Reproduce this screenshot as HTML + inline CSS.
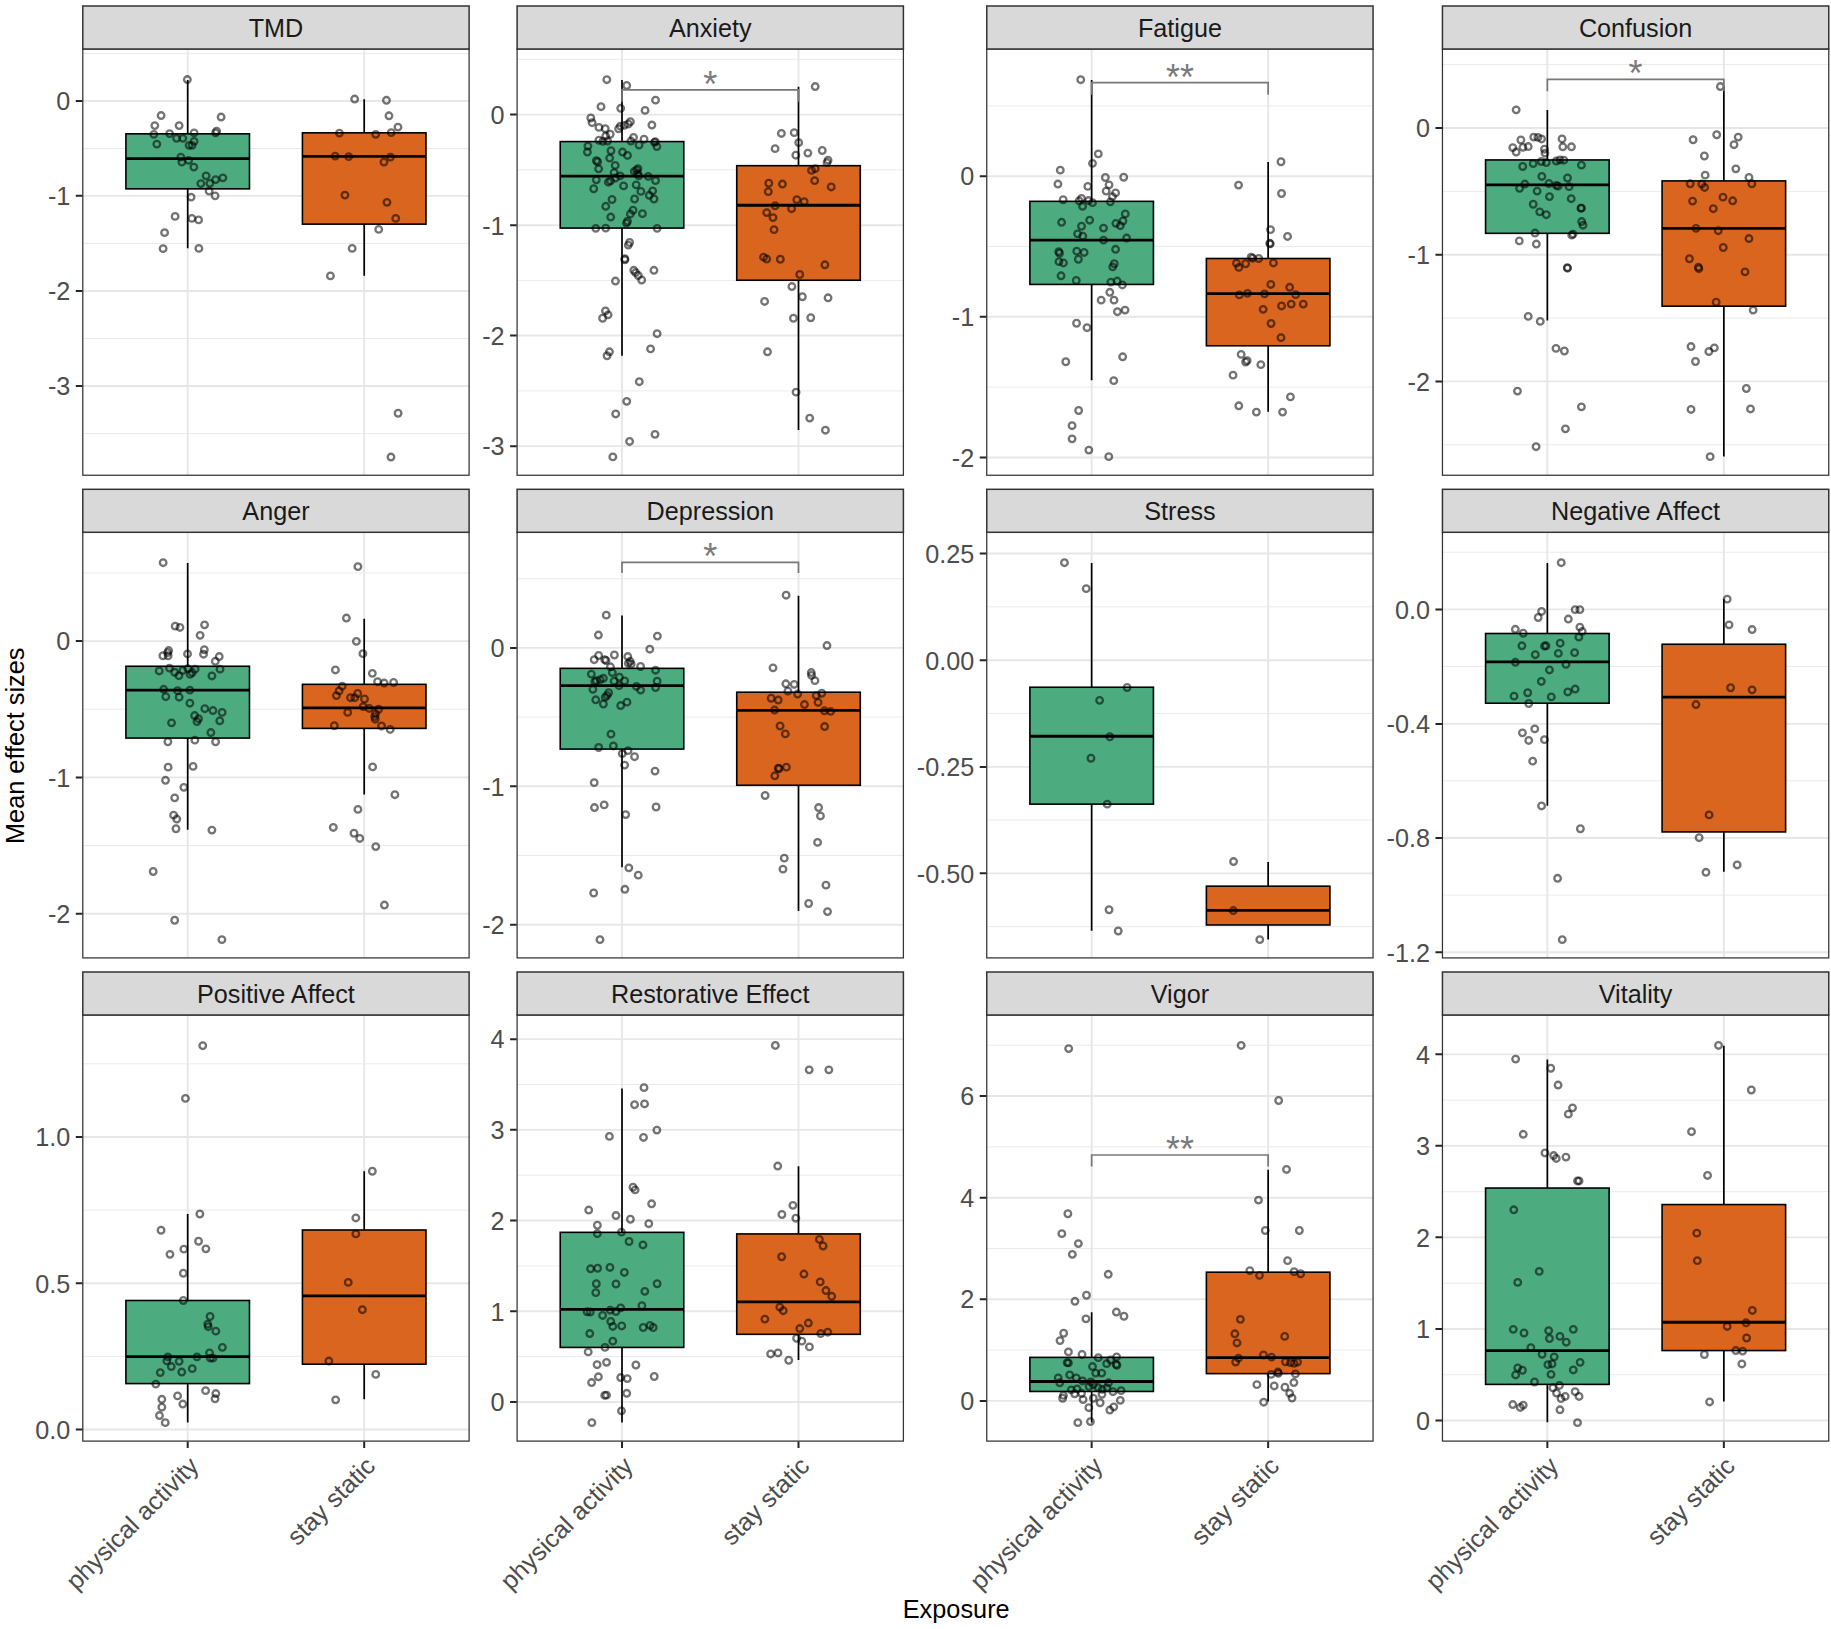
<!DOCTYPE html>
<html lang="en">
<head>
<meta charset="utf-8">
<title>Mean effect sizes by exposure</title>
<style>
html,body{margin:0;padding:0;background:#fff;}
body{width:1831px;height:1629px;overflow:hidden;}
svg{display:block;font-family:"Liberation Sans", Arial, sans-serif;}
</style>
</head>
<body>
<svg width="1831" height="1629" viewBox="0 0 1831 1629">
<rect width="1831" height="1629" fill="#fff"/>
<g>
<rect x="82.8" y="49" width="386.3" height="426.24" fill="#fff"/>
<path d="M82.8 53.57H469.1M82.8 148.55H469.1M82.8 243.52H469.1M82.8 338.5H469.1M82.8 433.47H469.1" stroke="#EBEBEB" stroke-width="1" fill="none"/>
<path d="M82.8 101.06H469.1M82.8 195.87H469.1M82.8 290.93H469.1M82.8 385.99H469.1M187.7 49V475.24M364.2 49V475.24" stroke="#E7E7E7" stroke-width="1.9" fill="none"/>
<path d="M187.7 80.05V133.83M187.7 188.87V248.15" stroke="#000" stroke-width="1.7" fill="none"/>
<rect x="125.92" y="133.83" width="123.55" height="55.03" fill="#4CAC80" stroke="#000" stroke-width="1.6"/>
<path d="M125.92 158.6H249.47" stroke="#000" stroke-width="2.8" fill="none"/>
<path d="M364.2 99.31V132.83M364.2 224.14V275.67" stroke="#000" stroke-width="1.7" fill="none"/>
<rect x="302.43" y="132.83" width="123.55" height="91.31" fill="#DA651F" stroke="#000" stroke-width="1.6"/>
<path d="M302.43 156.35H425.97" stroke="#000" stroke-width="2.8" fill="none"/>
<g fill="none" stroke="#000" stroke-opacity="0.55" stroke-width="2.3">
<circle cx="187.35" cy="79.55" r="3.3"/>
<circle cx="161.09" cy="115.57" r="3.3"/>
<circle cx="221.12" cy="117.07" r="3.3"/>
<circle cx="154.83" cy="125.58" r="3.3"/>
<circle cx="179.1" cy="125.58" r="3.3"/>
<circle cx="153.83" cy="134.33" r="3.3"/>
<circle cx="169.59" cy="133.58" r="3.3"/>
<circle cx="194.11" cy="132.83" r="3.3"/>
<circle cx="216.62" cy="131.08" r="3.3"/>
<circle cx="215.62" cy="132.83" r="3.3"/>
<circle cx="176.6" cy="138.33" r="3.3"/>
<circle cx="182.85" cy="138.33" r="3.3"/>
<circle cx="194.11" cy="141.34" r="3.3"/>
<circle cx="156.84" cy="144.09" r="3.3"/>
<circle cx="189.1" cy="145.34" r="3.3"/>
<circle cx="192.1" cy="145.34" r="3.3"/>
<circle cx="180.85" cy="157.1" r="3.3"/>
<circle cx="181.85" cy="162.1" r="3.3"/>
<circle cx="188.6" cy="160.35" r="3.3"/>
<circle cx="193.86" cy="167.1" r="3.3"/>
<circle cx="206.11" cy="175.86" r="3.3"/>
<circle cx="222.87" cy="177.86" r="3.3"/>
<circle cx="215.62" cy="179.61" r="3.3"/>
<circle cx="200.86" cy="183.61" r="3.3"/>
<circle cx="209.86" cy="183.36" r="3.3"/>
<circle cx="209.11" cy="191.12" r="3.3"/>
<circle cx="191.1" cy="197.12" r="3.3"/>
<circle cx="215.12" cy="195.87" r="3.3"/>
<circle cx="175.1" cy="216.38" r="3.3"/>
<circle cx="191.85" cy="218.38" r="3.3"/>
<circle cx="198.61" cy="219.89" r="3.3"/>
<circle cx="164.59" cy="232.64" r="3.3"/>
<circle cx="163.09" cy="248.65" r="3.3"/>
<circle cx="198.86" cy="248.4" r="3.3"/>
<circle cx="354.69" cy="99.06" r="3.3"/>
<circle cx="386.46" cy="100.31" r="3.3"/>
<circle cx="388.96" cy="115.82" r="3.3"/>
<circle cx="397.97" cy="127.08" r="3.3"/>
<circle cx="339.44" cy="133.08" r="3.3"/>
<circle cx="375.71" cy="134.33" r="3.3"/>
<circle cx="391.21" cy="132.58" r="3.3"/>
<circle cx="335.18" cy="156.1" r="3.3"/>
<circle cx="348.69" cy="156.6" r="3.3"/>
<circle cx="390.46" cy="157.1" r="3.3"/>
<circle cx="383.96" cy="162.1" r="3.3"/>
<circle cx="344.94" cy="195.12" r="3.3"/>
<circle cx="386.96" cy="202.37" r="3.3"/>
<circle cx="395.72" cy="218.38" r="3.3"/>
<circle cx="378.71" cy="229.39" r="3.3"/>
<circle cx="352.19" cy="248.4" r="3.3"/>
<circle cx="330.43" cy="275.92" r="3.3"/>
<circle cx="398.09" cy="413.25" r="3.3"/>
<circle cx="390.96" cy="457.03" r="3.3"/>
</g>
<rect x="82.8" y="49" width="386.3" height="426.24" fill="none" stroke="#333333" stroke-width="1.25"/>
<rect x="82.8" y="6" width="386.3" height="43" fill="#D9D9D9" stroke="#333333" stroke-width="1.5"/>
<text x="275.95" y="36.7" font-size="25.2" fill="#1A1A1A" text-anchor="middle">TMD</text>
<text x="70.3" y="110.36" font-size="25.2" fill="#4D4D4D" text-anchor="end">0</text>
<text x="70.3" y="205.17" font-size="25.2" fill="#4D4D4D" text-anchor="end">-1</text>
<text x="70.3" y="300.23" font-size="25.2" fill="#4D4D4D" text-anchor="end">-2</text>
<text x="70.3" y="395.29" font-size="25.2" fill="#4D4D4D" text-anchor="end">-3</text>
<path d="M75.8 101.06H82.4M75.8 195.87H82.4M75.8 290.93H82.4M75.8 385.99H82.4" stroke="#262626" stroke-width="2" fill="none"/>
</g>
<g>
<rect x="517.1" y="49" width="386.3" height="426.24" fill="#fff"/>
<path d="M517.1 59.32H903.4M517.1 169.84H903.4M517.1 280.37H903.4M517.1 390.9H903.4" stroke="#EBEBEB" stroke-width="1" fill="none"/>
<path d="M517.1 114.58H903.4M517.1 225.2H903.4M517.1 335.55H903.4M517.1 446.17H903.4M622 49V475.24M798.5 49V475.24" stroke="#E7E7E7" stroke-width="1.9" fill="none"/>
<path d="M622 79.98V141.58M622 228.08V355.73" stroke="#000" stroke-width="1.7" fill="none"/>
<rect x="560.23" y="141.58" width="123.55" height="86.5" fill="#4CAC80" stroke="#000" stroke-width="1.6"/>
<path d="M560.23 176.18H683.77" stroke="#000" stroke-width="2.8" fill="none"/>
<path d="M798.5 86.79V165.69M798.5 280.24V429.91" stroke="#000" stroke-width="1.7" fill="none"/>
<rect x="736.73" y="165.69" width="123.55" height="114.55" fill="#DA651F" stroke="#000" stroke-width="1.6"/>
<path d="M736.73 205.27H860.27" stroke="#000" stroke-width="2.8" fill="none"/>
<g fill="none" stroke="#000" stroke-opacity="0.55" stroke-width="2.3">
<circle cx="606.79" cy="79.72" r="3.3"/>
<circle cx="626.72" cy="85.48" r="3.3"/>
<circle cx="655.55" cy="100.16" r="3.3"/>
<circle cx="601.03" cy="106.72" r="3.3"/>
<circle cx="620.69" cy="108.29" r="3.3"/>
<circle cx="645.07" cy="110.39" r="3.3"/>
<circle cx="590.8" cy="117.99" r="3.3"/>
<circle cx="592.11" cy="122.71" r="3.3"/>
<circle cx="630.39" cy="121.66" r="3.3"/>
<circle cx="628.29" cy="124.02" r="3.3"/>
<circle cx="624.36" cy="125.33" r="3.3"/>
<circle cx="620.43" cy="126.11" r="3.3"/>
<circle cx="651.88" cy="125.06" r="3.3"/>
<circle cx="598.93" cy="127.42" r="3.3"/>
<circle cx="605.22" cy="128.73" r="3.3"/>
<circle cx="618.59" cy="128.73" r="3.3"/>
<circle cx="610.2" cy="134.24" r="3.3"/>
<circle cx="605.75" cy="136.07" r="3.3"/>
<circle cx="633.53" cy="137.38" r="3.3"/>
<circle cx="644.02" cy="139.22" r="3.3"/>
<circle cx="598.93" cy="140.27" r="3.3"/>
<circle cx="602.86" cy="141.32" r="3.3"/>
<circle cx="607.58" cy="141.05" r="3.3"/>
<circle cx="630.91" cy="141.05" r="3.3"/>
<circle cx="655.29" cy="141.58" r="3.3"/>
<circle cx="654.51" cy="142.36" r="3.3"/>
<circle cx="587.92" cy="146.03" r="3.3"/>
<circle cx="639.04" cy="144.99" r="3.3"/>
<circle cx="656.87" cy="146.56" r="3.3"/>
<circle cx="610.99" cy="150.75" r="3.3"/>
<circle cx="587.4" cy="152.06" r="3.3"/>
<circle cx="622.52" cy="152.06" r="3.3"/>
<circle cx="627.5" cy="155.47" r="3.3"/>
<circle cx="609.68" cy="158.09" r="3.3"/>
<circle cx="596.31" cy="160.71" r="3.3"/>
<circle cx="597.62" cy="161.76" r="3.3"/>
<circle cx="615.18" cy="165.43" r="3.3"/>
<circle cx="598.67" cy="168.84" r="3.3"/>
<circle cx="637.99" cy="168.58" r="3.3"/>
<circle cx="636.68" cy="169.89" r="3.3"/>
<circle cx="634.32" cy="171.46" r="3.3"/>
<circle cx="614.13" cy="172.77" r="3.3"/>
<circle cx="637.73" cy="173.82" r="3.3"/>
<circle cx="620.16" cy="175.92" r="3.3"/>
<circle cx="638.78" cy="175.92" r="3.3"/>
<circle cx="648.21" cy="176.44" r="3.3"/>
<circle cx="615.45" cy="178.01" r="3.3"/>
<circle cx="596.31" cy="179.85" r="3.3"/>
<circle cx="610.46" cy="180.9" r="3.3"/>
<circle cx="608.37" cy="182.21" r="3.3"/>
<circle cx="655.55" cy="180.63" r="3.3"/>
<circle cx="623.57" cy="185.88" r="3.3"/>
<circle cx="636.16" cy="184.83" r="3.3"/>
<circle cx="593.69" cy="188.76" r="3.3"/>
<circle cx="640.87" cy="191.38" r="3.3"/>
<circle cx="652.67" cy="190.86" r="3.3"/>
<circle cx="649.26" cy="195.31" r="3.3"/>
<circle cx="612.04" cy="199.51" r="3.3"/>
<circle cx="634.58" cy="198.98" r="3.3"/>
<circle cx="653.98" cy="198.98" r="3.3"/>
<circle cx="605.75" cy="206.32" r="3.3"/>
<circle cx="633.01" cy="210.25" r="3.3"/>
<circle cx="630.39" cy="213.92" r="3.3"/>
<circle cx="642.45" cy="213.66" r="3.3"/>
<circle cx="610.73" cy="217.07" r="3.3"/>
<circle cx="627.5" cy="221.26" r="3.3"/>
<circle cx="626.46" cy="223.1" r="3.3"/>
<circle cx="595.78" cy="228.34" r="3.3"/>
<circle cx="605.75" cy="228.08" r="3.3"/>
<circle cx="657.13" cy="228.34" r="3.3"/>
<circle cx="629.6" cy="242.5" r="3.3"/>
<circle cx="628.29" cy="245.12" r="3.3"/>
<circle cx="624.88" cy="258.75" r="3.3"/>
<circle cx="624.88" cy="259.8" r="3.3"/>
<circle cx="653.98" cy="270.28" r="3.3"/>
<circle cx="633.8" cy="270.28" r="3.3"/>
<circle cx="635.63" cy="272.64" r="3.3"/>
<circle cx="638.25" cy="275.52" r="3.3"/>
<circle cx="641.66" cy="279.98" r="3.3"/>
<circle cx="615.45" cy="281.03" r="3.3"/>
<circle cx="605.48" cy="310.91" r="3.3"/>
<circle cx="608.11" cy="314.84" r="3.3"/>
<circle cx="602.6" cy="318.25" r="3.3"/>
<circle cx="657.13" cy="333.72" r="3.3"/>
<circle cx="650.57" cy="348.92" r="3.3"/>
<circle cx="609.42" cy="351.8" r="3.3"/>
<circle cx="607.06" cy="355.73" r="3.3"/>
<circle cx="639.3" cy="381.68" r="3.3"/>
<circle cx="626.72" cy="401.34" r="3.3"/>
<circle cx="615.71" cy="413.93" r="3.3"/>
<circle cx="655.03" cy="434.37" r="3.3"/>
<circle cx="629.6" cy="441.45" r="3.3"/>
<circle cx="612.82" cy="456.91" r="3.3"/>
<circle cx="815.21" cy="86.53" r="3.3"/>
<circle cx="781.39" cy="133.45" r="3.3"/>
<circle cx="794.23" cy="132.67" r="3.3"/>
<circle cx="798.69" cy="142.63" r="3.3"/>
<circle cx="775.1" cy="148.66" r="3.3"/>
<circle cx="822.28" cy="150.49" r="3.3"/>
<circle cx="807.87" cy="153.11" r="3.3"/>
<circle cx="795.81" cy="155.21" r="3.3"/>
<circle cx="828.05" cy="160.19" r="3.3"/>
<circle cx="827" cy="162.55" r="3.3"/>
<circle cx="815.21" cy="168.58" r="3.3"/>
<circle cx="811.54" cy="170.41" r="3.3"/>
<circle cx="814.68" cy="180.63" r="3.3"/>
<circle cx="768.8" cy="183.26" r="3.3"/>
<circle cx="782.44" cy="184.04" r="3.3"/>
<circle cx="831.2" cy="186.93" r="3.3"/>
<circle cx="768.28" cy="191.64" r="3.3"/>
<circle cx="796.85" cy="199.77" r="3.3"/>
<circle cx="804.19" cy="201.6" r="3.3"/>
<circle cx="775.1" cy="205.8" r="3.3"/>
<circle cx="791.61" cy="208.68" r="3.3"/>
<circle cx="766.71" cy="212.61" r="3.3"/>
<circle cx="773" cy="217.59" r="3.3"/>
<circle cx="774.05" cy="229.65" r="3.3"/>
<circle cx="763.56" cy="257.17" r="3.3"/>
<circle cx="766.71" cy="259.01" r="3.3"/>
<circle cx="780.34" cy="259.27" r="3.3"/>
<circle cx="824.9" cy="264.78" r="3.3"/>
<circle cx="799.74" cy="274.48" r="3.3"/>
<circle cx="791.87" cy="286.53" r="3.3"/>
<circle cx="802.36" cy="296.76" r="3.3"/>
<circle cx="828.05" cy="297.8" r="3.3"/>
<circle cx="764.61" cy="301.47" r="3.3"/>
<circle cx="793.45" cy="318.25" r="3.3"/>
<circle cx="810.75" cy="317.73" r="3.3"/>
<circle cx="767.49" cy="351.8" r="3.3"/>
<circle cx="796.07" cy="392.17" r="3.3"/>
<circle cx="809.7" cy="418.12" r="3.3"/>
<circle cx="825.43" cy="430.18" r="3.3"/>
</g>
<path d="M622 101.74V89.94H798.5V101.74" stroke="#787878" stroke-width="1.7" fill="none"/>
<text x="710.25" y="96.94" font-size="36" fill="#7a7a7a" text-anchor="middle">*</text>
<rect x="517.1" y="49" width="386.3" height="426.24" fill="none" stroke="#333333" stroke-width="1.25"/>
<rect x="517.1" y="6" width="386.3" height="43" fill="#D9D9D9" stroke="#333333" stroke-width="1.5"/>
<text x="710.25" y="36.7" font-size="25.2" fill="#1A1A1A" text-anchor="middle">Anxiety</text>
<text x="504.6" y="123.88" font-size="25.2" fill="#4D4D4D" text-anchor="end">0</text>
<text x="504.6" y="234.5" font-size="25.2" fill="#4D4D4D" text-anchor="end">-1</text>
<text x="504.6" y="344.85" font-size="25.2" fill="#4D4D4D" text-anchor="end">-2</text>
<text x="504.6" y="455.47" font-size="25.2" fill="#4D4D4D" text-anchor="end">-3</text>
<path d="M510.1 114.58H516.7M510.1 225.2H516.7M510.1 335.55H516.7M510.1 446.17H516.7" stroke="#262626" stroke-width="2" fill="none"/>
</g>
<g>
<rect x="986.75" y="49" width="386.3" height="426.24" fill="#fff"/>
<path d="M986.75 105.86H1373.05M986.75 246.49H1373.05M986.75 387.12H1373.05" stroke="#EBEBEB" stroke-width="1" fill="none"/>
<path d="M986.75 176.18H1373.05M986.75 316.68H1373.05M986.75 457.44H1373.05M1091.65 49V475.24M1268.15 49V475.24" stroke="#E7E7E7" stroke-width="1.9" fill="none"/>
<path d="M1091.65 79.98V201.34M1091.65 284.44V380.37" stroke="#000" stroke-width="1.7" fill="none"/>
<rect x="1029.88" y="201.34" width="123.55" height="83.09" fill="#4CAC80" stroke="#000" stroke-width="1.6"/>
<path d="M1029.88 240.14H1153.43" stroke="#000" stroke-width="2.8" fill="none"/>
<path d="M1268.15 162.02V258.49M1268.15 345.77V411.83" stroke="#000" stroke-width="1.7" fill="none"/>
<rect x="1206.38" y="258.49" width="123.55" height="87.29" fill="#DA651F" stroke="#000" stroke-width="1.6"/>
<path d="M1206.38 293.61H1329.93" stroke="#000" stroke-width="2.8" fill="none"/>
<g fill="none" stroke="#000" stroke-opacity="0.55" stroke-width="2.3">
<circle cx="1080.73" cy="79.72" r="3.3"/>
<circle cx="1098.29" cy="153.9" r="3.3"/>
<circle cx="1092.52" cy="163.33" r="3.3"/>
<circle cx="1060.28" cy="170.15" r="3.3"/>
<circle cx="1105.37" cy="177.49" r="3.3"/>
<circle cx="1123.72" cy="177.23" r="3.3"/>
<circle cx="1057.92" cy="184.04" r="3.3"/>
<circle cx="1087.81" cy="186.4" r="3.3"/>
<circle cx="1109.04" cy="184.83" r="3.3"/>
<circle cx="1106.16" cy="191.12" r="3.3"/>
<circle cx="1115.59" cy="192.95" r="3.3"/>
<circle cx="1112.45" cy="196.62" r="3.3"/>
<circle cx="1063.16" cy="199.77" r="3.3"/>
<circle cx="1081.51" cy="198.46" r="3.3"/>
<circle cx="1079.15" cy="200.82" r="3.3"/>
<circle cx="1088.59" cy="200.56" r="3.3"/>
<circle cx="1092.52" cy="202.65" r="3.3"/>
<circle cx="1110.35" cy="201.87" r="3.3"/>
<circle cx="1082.56" cy="206.32" r="3.3"/>
<circle cx="1125.29" cy="213.92" r="3.3"/>
<circle cx="1061.59" cy="222.31" r="3.3"/>
<circle cx="1089.64" cy="220.22" r="3.3"/>
<circle cx="1122.93" cy="221" r="3.3"/>
<circle cx="1115.86" cy="223.36" r="3.3"/>
<circle cx="1081.51" cy="226.24" r="3.3"/>
<circle cx="1120.31" cy="225.72" r="3.3"/>
<circle cx="1103.53" cy="228.08" r="3.3"/>
<circle cx="1077.58" cy="233.85" r="3.3"/>
<circle cx="1082.82" cy="236.21" r="3.3"/>
<circle cx="1126.6" cy="238.04" r="3.3"/>
<circle cx="1103.53" cy="240.14" r="3.3"/>
<circle cx="1115.59" cy="249.31" r="3.3"/>
<circle cx="1058.71" cy="251.67" r="3.3"/>
<circle cx="1059.49" cy="253.24" r="3.3"/>
<circle cx="1076.79" cy="251.15" r="3.3"/>
<circle cx="1084.13" cy="252.46" r="3.3"/>
<circle cx="1078.37" cy="259.27" r="3.3"/>
<circle cx="1058.97" cy="261.63" r="3.3"/>
<circle cx="1063.42" cy="262.94" r="3.3"/>
<circle cx="1114.28" cy="263.73" r="3.3"/>
<circle cx="1112.71" cy="266.87" r="3.3"/>
<circle cx="1061.07" cy="275.79" r="3.3"/>
<circle cx="1076.27" cy="280.5" r="3.3"/>
<circle cx="1110.87" cy="282.08" r="3.3"/>
<circle cx="1117.17" cy="281.03" r="3.3"/>
<circle cx="1122.41" cy="284.96" r="3.3"/>
<circle cx="1109.83" cy="292.3" r="3.3"/>
<circle cx="1101.17" cy="300.16" r="3.3"/>
<circle cx="1114.02" cy="300.16" r="3.3"/>
<circle cx="1117.43" cy="311.7" r="3.3"/>
<circle cx="1125.03" cy="310.12" r="3.3"/>
<circle cx="1076.53" cy="323.23" r="3.3"/>
<circle cx="1087.02" cy="327.69" r="3.3"/>
<circle cx="1122.67" cy="356.78" r="3.3"/>
<circle cx="1065.78" cy="361.76" r="3.3"/>
<circle cx="1113.76" cy="380.64" r="3.3"/>
<circle cx="1078.63" cy="410.52" r="3.3"/>
<circle cx="1072.08" cy="425.72" r="3.3"/>
<circle cx="1072.08" cy="438.83" r="3.3"/>
<circle cx="1088.85" cy="450.1" r="3.3"/>
<circle cx="1108.78" cy="456.65" r="3.3"/>
<circle cx="1281.01" cy="161.76" r="3.3"/>
<circle cx="1238.54" cy="185.09" r="3.3"/>
<circle cx="1281.54" cy="193.48" r="3.3"/>
<circle cx="1270.52" cy="229.65" r="3.3"/>
<circle cx="1287.56" cy="236.47" r="3.3"/>
<circle cx="1269.74" cy="243.28" r="3.3"/>
<circle cx="1270.26" cy="243.81" r="3.3"/>
<circle cx="1251.13" cy="257.17" r="3.3"/>
<circle cx="1252.7" cy="258.22" r="3.3"/>
<circle cx="1258.73" cy="258.49" r="3.3"/>
<circle cx="1236.45" cy="263.2" r="3.3"/>
<circle cx="1245.62" cy="263.73" r="3.3"/>
<circle cx="1273.41" cy="262.94" r="3.3"/>
<circle cx="1238.8" cy="267.4" r="3.3"/>
<circle cx="1270.79" cy="284.44" r="3.3"/>
<circle cx="1289.66" cy="287.32" r="3.3"/>
<circle cx="1239.33" cy="294.92" r="3.3"/>
<circle cx="1247.46" cy="293.35" r="3.3"/>
<circle cx="1264.5" cy="293.87" r="3.3"/>
<circle cx="1295.69" cy="294.66" r="3.3"/>
<circle cx="1281.54" cy="305.93" r="3.3"/>
<circle cx="1291.23" cy="304.1" r="3.3"/>
<circle cx="1303.29" cy="304.1" r="3.3"/>
<circle cx="1263.18" cy="309.34" r="3.3"/>
<circle cx="1271.05" cy="323.49" r="3.3"/>
<circle cx="1281.01" cy="337.65" r="3.3"/>
<circle cx="1241.16" cy="354.42" r="3.3"/>
<circle cx="1245.62" cy="362.02" r="3.3"/>
<circle cx="1247.19" cy="360.71" r="3.3"/>
<circle cx="1260.83" cy="364.65" r="3.3"/>
<circle cx="1233.04" cy="375.13" r="3.3"/>
<circle cx="1290.45" cy="396.89" r="3.3"/>
<circle cx="1238.8" cy="405.8" r="3.3"/>
<circle cx="1256.37" cy="412.09" r="3.3"/>
<circle cx="1282.58" cy="412.09" r="3.3"/>
</g>
<path d="M1091.65 94.66V82.6H1268.15V94.66" stroke="#787878" stroke-width="1.7" fill="none"/>
<text x="1179.9" y="89.6" font-size="36" fill="#7a7a7a" text-anchor="middle">**</text>
<rect x="986.75" y="49" width="386.3" height="426.24" fill="none" stroke="#333333" stroke-width="1.25"/>
<rect x="986.75" y="6" width="386.3" height="43" fill="#D9D9D9" stroke="#333333" stroke-width="1.5"/>
<text x="1179.9" y="36.7" font-size="25.2" fill="#1A1A1A" text-anchor="middle">Fatigue</text>
<text x="974.25" y="185.48" font-size="25.2" fill="#4D4D4D" text-anchor="end">0</text>
<text x="974.25" y="325.98" font-size="25.2" fill="#4D4D4D" text-anchor="end">-1</text>
<text x="974.25" y="466.74" font-size="25.2" fill="#4D4D4D" text-anchor="end">-2</text>
<path d="M979.75 176.18H986.35M979.75 316.68H986.35M979.75 457.44H986.35" stroke="#262626" stroke-width="2" fill="none"/>
</g>
<g>
<rect x="1442.45" y="49" width="386.3" height="426.24" fill="#fff"/>
<path d="M1442.45 64.58H1828.75M1442.45 191.32H1828.75M1442.45 318.05H1828.75M1442.45 444.79H1828.75" stroke="#EBEBEB" stroke-width="1" fill="none"/>
<path d="M1442.45 127.95H1828.75M1442.45 254.82H1828.75M1442.45 381.42H1828.75M1547.35 49V475.24M1723.85 49V475.24" stroke="#E7E7E7" stroke-width="1.9" fill="none"/>
<path d="M1547.35 110.12V159.93M1547.35 233.32V320.61" stroke="#000" stroke-width="1.7" fill="none"/>
<rect x="1485.58" y="159.93" width="123.55" height="73.39" fill="#4CAC80" stroke="#000" stroke-width="1.6"/>
<path d="M1485.58 184.83H1609.13" stroke="#000" stroke-width="2.8" fill="none"/>
<path d="M1723.85 86.79V180.9M1723.85 306.19V456.39" stroke="#000" stroke-width="1.7" fill="none"/>
<rect x="1662.08" y="180.9" width="123.55" height="125.3" fill="#DA651F" stroke="#000" stroke-width="1.6"/>
<path d="M1662.08 228.34H1785.63" stroke="#000" stroke-width="2.8" fill="none"/>
<g fill="none" stroke="#000" stroke-opacity="0.55" stroke-width="2.3">
<circle cx="1516.16" cy="109.86" r="3.3"/>
<circle cx="1533.72" cy="137.12" r="3.3"/>
<circle cx="1537.91" cy="137.38" r="3.3"/>
<circle cx="1541.58" cy="138.96" r="3.3"/>
<circle cx="1520.87" cy="140.01" r="3.3"/>
<circle cx="1562.03" cy="138.96" r="3.3"/>
<circle cx="1512.75" cy="147.61" r="3.3"/>
<circle cx="1522.97" cy="147.34" r="3.3"/>
<circle cx="1528.21" cy="146.56" r="3.3"/>
<circle cx="1562.82" cy="146.82" r="3.3"/>
<circle cx="1571.47" cy="146.82" r="3.3"/>
<circle cx="1544.47" cy="149.18" r="3.3"/>
<circle cx="1516.16" cy="152.06" r="3.3"/>
<circle cx="1544.99" cy="153.11" r="3.3"/>
<circle cx="1541.32" cy="161.5" r="3.3"/>
<circle cx="1546.3" cy="162.55" r="3.3"/>
<circle cx="1556.26" cy="160.98" r="3.3"/>
<circle cx="1559.94" cy="159.93" r="3.3"/>
<circle cx="1563.87" cy="160.19" r="3.3"/>
<circle cx="1533.2" cy="163.6" r="3.3"/>
<circle cx="1522.71" cy="166.48" r="3.3"/>
<circle cx="1581.43" cy="165.17" r="3.3"/>
<circle cx="1541.85" cy="176.44" r="3.3"/>
<circle cx="1567.54" cy="178.01" r="3.3"/>
<circle cx="1524.81" cy="184.04" r="3.3"/>
<circle cx="1548.92" cy="183.52" r="3.3"/>
<circle cx="1556.26" cy="185.35" r="3.3"/>
<circle cx="1558.1" cy="186.14" r="3.3"/>
<circle cx="1569.11" cy="186.66" r="3.3"/>
<circle cx="1519.56" cy="188.24" r="3.3"/>
<circle cx="1537.13" cy="191.12" r="3.3"/>
<circle cx="1549.45" cy="196.62" r="3.3"/>
<circle cx="1571.21" cy="198.72" r="3.3"/>
<circle cx="1533.2" cy="204.23" r="3.3"/>
<circle cx="1580.91" cy="208.16" r="3.3"/>
<circle cx="1581.43" cy="208.16" r="3.3"/>
<circle cx="1539.75" cy="211.83" r="3.3"/>
<circle cx="1546.3" cy="214.71" r="3.3"/>
<circle cx="1581.69" cy="221.53" r="3.3"/>
<circle cx="1583" cy="225.2" r="3.3"/>
<circle cx="1535.03" cy="233.06" r="3.3"/>
<circle cx="1571.73" cy="235.16" r="3.3"/>
<circle cx="1573.04" cy="234.11" r="3.3"/>
<circle cx="1519.3" cy="240.92" r="3.3"/>
<circle cx="1536.34" cy="244.07" r="3.3"/>
<circle cx="1567.28" cy="267.66" r="3.3"/>
<circle cx="1567.54" cy="268.18" r="3.3"/>
<circle cx="1528.21" cy="316.41" r="3.3"/>
<circle cx="1540.27" cy="321.4" r="3.3"/>
<circle cx="1556" cy="348.39" r="3.3"/>
<circle cx="1564.39" cy="351.02" r="3.3"/>
<circle cx="1517.47" cy="391.12" r="3.3"/>
<circle cx="1581.43" cy="406.85" r="3.3"/>
<circle cx="1565.44" cy="428.87" r="3.3"/>
<circle cx="1536.08" cy="446.69" r="3.3"/>
<circle cx="1720.37" cy="86.53" r="3.3"/>
<circle cx="1716.7" cy="134.76" r="3.3"/>
<circle cx="1738.2" cy="137.12" r="3.3"/>
<circle cx="1693.11" cy="139.74" r="3.3"/>
<circle cx="1734" cy="144.72" r="3.3"/>
<circle cx="1704.38" cy="156" r="3.3"/>
<circle cx="1735.84" cy="168.84" r="3.3"/>
<circle cx="1705.17" cy="175.13" r="3.3"/>
<circle cx="1748.95" cy="177.49" r="3.3"/>
<circle cx="1690.22" cy="183.78" r="3.3"/>
<circle cx="1701.76" cy="184.04" r="3.3"/>
<circle cx="1751.83" cy="183.78" r="3.3"/>
<circle cx="1704.64" cy="187.45" r="3.3"/>
<circle cx="1722.99" cy="197.15" r="3.3"/>
<circle cx="1692.58" cy="201.08" r="3.3"/>
<circle cx="1732.69" cy="200.82" r="3.3"/>
<circle cx="1713.29" cy="208.68" r="3.3"/>
<circle cx="1695.99" cy="228.34" r="3.3"/>
<circle cx="1718.27" cy="230.7" r="3.3"/>
<circle cx="1748.95" cy="238.56" r="3.3"/>
<circle cx="1723.26" cy="247.48" r="3.3"/>
<circle cx="1689.44" cy="258.75" r="3.3"/>
<circle cx="1698.35" cy="267.14" r="3.3"/>
<circle cx="1698.88" cy="268.71" r="3.3"/>
<circle cx="1745.01" cy="271.85" r="3.3"/>
<circle cx="1716.18" cy="302.26" r="3.3"/>
<circle cx="1753.14" cy="310.12" r="3.3"/>
<circle cx="1691.01" cy="346.56" r="3.3"/>
<circle cx="1714.34" cy="347.87" r="3.3"/>
<circle cx="1708.84" cy="351.54" r="3.3"/>
<circle cx="1695.47" cy="361.5" r="3.3"/>
<circle cx="1746.32" cy="388.5" r="3.3"/>
<circle cx="1691.01" cy="409.47" r="3.3"/>
<circle cx="1750.52" cy="408.94" r="3.3"/>
<circle cx="1710.15" cy="456.65" r="3.3"/>
</g>
<path d="M1547.35 91.25V79.45H1723.85V91.25" stroke="#787878" stroke-width="1.7" fill="none"/>
<text x="1635.6" y="86.45" font-size="36" fill="#7a7a7a" text-anchor="middle">*</text>
<rect x="1442.45" y="49" width="386.3" height="426.24" fill="none" stroke="#333333" stroke-width="1.25"/>
<rect x="1442.45" y="6" width="386.3" height="43" fill="#D9D9D9" stroke="#333333" stroke-width="1.5"/>
<text x="1635.6" y="36.7" font-size="25.2" fill="#1A1A1A" text-anchor="middle">Confusion</text>
<text x="1429.95" y="137.25" font-size="25.2" fill="#4D4D4D" text-anchor="end">0</text>
<text x="1429.95" y="264.12" font-size="25.2" fill="#4D4D4D" text-anchor="end">-1</text>
<text x="1429.95" y="390.72" font-size="25.2" fill="#4D4D4D" text-anchor="end">-2</text>
<path d="M1435.45 127.95H1442.05M1435.45 254.82H1442.05M1435.45 381.42H1442.05" stroke="#262626" stroke-width="2" fill="none"/>
</g>
<g>
<rect x="82.8" y="532.3" width="386.3" height="425.6" fill="#fff"/>
<path d="M82.8 572.94H469.1M82.8 709.24H469.1M82.8 845.55H469.1" stroke="#EBEBEB" stroke-width="1" fill="none"/>
<path d="M82.8 641.09H469.1M82.8 777.4H469.1M82.8 913.7H469.1M187.7 532.3V957.9M364.2 532.3V957.9" stroke="#E7E7E7" stroke-width="1.9" fill="none"/>
<path d="M187.7 562.98V666.26M187.7 738.08V829.82" stroke="#000" stroke-width="1.7" fill="none"/>
<rect x="125.92" y="666.26" width="123.55" height="71.82" fill="#4CAC80" stroke="#000" stroke-width="1.6"/>
<path d="M125.92 690.11H249.47" stroke="#000" stroke-width="2.8" fill="none"/>
<path d="M364.2 618.81V684.34M364.2 728.38V794.43" stroke="#000" stroke-width="1.7" fill="none"/>
<rect x="302.43" y="684.34" width="123.55" height="44.04" fill="#DA651F" stroke="#000" stroke-width="1.6"/>
<path d="M302.43 707.93H425.97" stroke="#000" stroke-width="2.8" fill="none"/>
<g fill="none" stroke="#000" stroke-opacity="0.55" stroke-width="2.3">
<circle cx="163.15" cy="562.72" r="3.3"/>
<circle cx="175.21" cy="626.15" r="3.3"/>
<circle cx="179.93" cy="627.46" r="3.3"/>
<circle cx="204.57" cy="624.84" r="3.3"/>
<circle cx="200.12" cy="635.33" r="3.3"/>
<circle cx="168.66" cy="650.53" r="3.3"/>
<circle cx="204.31" cy="649.74" r="3.3"/>
<circle cx="167.61" cy="652.63" r="3.3"/>
<circle cx="187.53" cy="653.94" r="3.3"/>
<circle cx="162.89" cy="655.77" r="3.3"/>
<circle cx="168.13" cy="655.77" r="3.3"/>
<circle cx="203.53" cy="654.2" r="3.3"/>
<circle cx="219.25" cy="656.56" r="3.3"/>
<circle cx="215.32" cy="661.28" r="3.3"/>
<circle cx="169.45" cy="668.09" r="3.3"/>
<circle cx="182.82" cy="670.45" r="3.3"/>
<circle cx="187.8" cy="668.62" r="3.3"/>
<circle cx="195.14" cy="669.14" r="3.3"/>
<circle cx="159.22" cy="670.97" r="3.3"/>
<circle cx="174.69" cy="672.28" r="3.3"/>
<circle cx="192.25" cy="672.55" r="3.3"/>
<circle cx="190.16" cy="674.38" r="3.3"/>
<circle cx="220.04" cy="669.14" r="3.3"/>
<circle cx="178.88" cy="675.69" r="3.3"/>
<circle cx="211.91" cy="675.95" r="3.3"/>
<circle cx="163.68" cy="689.32" r="3.3"/>
<circle cx="177.57" cy="690.63" r="3.3"/>
<circle cx="189.89" cy="690.11" r="3.3"/>
<circle cx="165.78" cy="696.66" r="3.3"/>
<circle cx="179.15" cy="697.19" r="3.3"/>
<circle cx="189.89" cy="703.22" r="3.3"/>
<circle cx="204.84" cy="708.72" r="3.3"/>
<circle cx="212.96" cy="710.55" r="3.3"/>
<circle cx="222.14" cy="712.39" r="3.3"/>
<circle cx="194.61" cy="715.54" r="3.3"/>
<circle cx="198.54" cy="718.68" r="3.3"/>
<circle cx="196.97" cy="721.56" r="3.3"/>
<circle cx="219.78" cy="720.78" r="3.3"/>
<circle cx="171.54" cy="722.87" r="3.3"/>
<circle cx="210.87" cy="732.57" r="3.3"/>
<circle cx="167.87" cy="741.75" r="3.3"/>
<circle cx="194.87" cy="740.17" r="3.3"/>
<circle cx="215.58" cy="741.75" r="3.3"/>
<circle cx="168.13" cy="767.17" r="3.3"/>
<circle cx="193.04" cy="766.39" r="3.3"/>
<circle cx="165.51" cy="780.28" r="3.3"/>
<circle cx="183.86" cy="787.36" r="3.3"/>
<circle cx="174.69" cy="797.84" r="3.3"/>
<circle cx="173.64" cy="815.14" r="3.3"/>
<circle cx="176.79" cy="819.07" r="3.3"/>
<circle cx="176" cy="828.77" r="3.3"/>
<circle cx="211.91" cy="830.08" r="3.3"/>
<circle cx="153.19" cy="871.5" r="3.3"/>
<circle cx="174.69" cy="920.25" r="3.3"/>
<circle cx="221.88" cy="939.65" r="3.3"/>
<circle cx="357.93" cy="566.65" r="3.3"/>
<circle cx="346.4" cy="618.03" r="3.3"/>
<circle cx="356.36" cy="641.35" r="3.3"/>
<circle cx="362.91" cy="653.67" r="3.3"/>
<circle cx="335.39" cy="669.93" r="3.3"/>
<circle cx="372.35" cy="673.33" r="3.3"/>
<circle cx="377.59" cy="681.72" r="3.3"/>
<circle cx="384.15" cy="683.03" r="3.3"/>
<circle cx="393.59" cy="682.51" r="3.3"/>
<circle cx="342.2" cy="686.18" r="3.3"/>
<circle cx="339.06" cy="690.9" r="3.3"/>
<circle cx="357.67" cy="693.52" r="3.3"/>
<circle cx="336.44" cy="695.61" r="3.3"/>
<circle cx="350.59" cy="697.71" r="3.3"/>
<circle cx="354.79" cy="697.71" r="3.3"/>
<circle cx="364.49" cy="699.02" r="3.3"/>
<circle cx="363.18" cy="706.62" r="3.3"/>
<circle cx="369.21" cy="708.46" r="3.3"/>
<circle cx="378.64" cy="709.24" r="3.3"/>
<circle cx="347.71" cy="712.39" r="3.3"/>
<circle cx="375.5" cy="713.7" r="3.3"/>
<circle cx="374.71" cy="716.58" r="3.3"/>
<circle cx="375.23" cy="719.21" r="3.3"/>
<circle cx="334.34" cy="725.76" r="3.3"/>
<circle cx="381.53" cy="726.02" r="3.3"/>
<circle cx="390.18" cy="729.43" r="3.3"/>
<circle cx="372.61" cy="766.91" r="3.3"/>
<circle cx="394.9" cy="794.7" r="3.3"/>
<circle cx="357.93" cy="809.38" r="3.3"/>
<circle cx="333.29" cy="827.46" r="3.3"/>
<circle cx="354" cy="833.23" r="3.3"/>
<circle cx="359.77" cy="838.47" r="3.3"/>
<circle cx="375.76" cy="846.6" r="3.3"/>
<circle cx="384.41" cy="905.05" r="3.3"/>
</g>
<rect x="82.8" y="532.3" width="386.3" height="425.6" fill="none" stroke="#333333" stroke-width="1.25"/>
<rect x="82.8" y="489.3" width="386.3" height="43" fill="#D9D9D9" stroke="#333333" stroke-width="1.5"/>
<text x="275.95" y="520" font-size="25.2" fill="#1A1A1A" text-anchor="middle">Anger</text>
<text x="70.3" y="650.39" font-size="25.2" fill="#4D4D4D" text-anchor="end">0</text>
<text x="70.3" y="786.7" font-size="25.2" fill="#4D4D4D" text-anchor="end">-1</text>
<text x="70.3" y="923" font-size="25.2" fill="#4D4D4D" text-anchor="end">-2</text>
<path d="M75.8 641.09H82.4M75.8 777.4H82.4M75.8 913.7H82.4" stroke="#262626" stroke-width="2" fill="none"/>
</g>
<g>
<rect x="517.1" y="532.3" width="386.3" height="425.6" fill="#fff"/>
<path d="M517.1 578.71H903.4M517.1 717.11H903.4M517.1 855.51H903.4" stroke="#EBEBEB" stroke-width="1" fill="none"/>
<path d="M517.1 647.91H903.4M517.1 786.31H903.4M517.1 924.71H903.4M622 532.3V957.9M798.5 532.3V957.9" stroke="#E7E7E7" stroke-width="1.9" fill="none"/>
<path d="M622 615.4V668.35M622 749.09V867.31" stroke="#000" stroke-width="1.7" fill="none"/>
<rect x="560.23" y="668.35" width="123.55" height="80.73" fill="#4CAC80" stroke="#000" stroke-width="1.6"/>
<path d="M560.23 685.65H683.77" stroke="#000" stroke-width="2.8" fill="none"/>
<path d="M798.5 595.74V692.21M798.5 785.26V911.08" stroke="#000" stroke-width="1.7" fill="none"/>
<rect x="736.73" y="692.21" width="123.55" height="93.05" fill="#DA651F" stroke="#000" stroke-width="1.6"/>
<path d="M736.73 710.29H860.27" stroke="#000" stroke-width="2.8" fill="none"/>
<g fill="none" stroke="#000" stroke-opacity="0.55" stroke-width="2.3">
<circle cx="606.27" cy="615.14" r="3.3"/>
<circle cx="598.41" cy="635.06" r="3.3"/>
<circle cx="657.39" cy="636.11" r="3.3"/>
<circle cx="649.79" cy="649.22" r="3.3"/>
<circle cx="598.67" cy="655.51" r="3.3"/>
<circle cx="614.4" cy="654.98" r="3.3"/>
<circle cx="627.77" cy="656.56" r="3.3"/>
<circle cx="594.21" cy="659.7" r="3.3"/>
<circle cx="604.7" cy="659.7" r="3.3"/>
<circle cx="606.01" cy="660.49" r="3.3"/>
<circle cx="630.13" cy="661.28" r="3.3"/>
<circle cx="628.29" cy="663.37" r="3.3"/>
<circle cx="631.17" cy="664.16" r="3.3"/>
<circle cx="610.46" cy="666.78" r="3.3"/>
<circle cx="640.61" cy="666.52" r="3.3"/>
<circle cx="655.55" cy="670.19" r="3.3"/>
<circle cx="612.3" cy="672.55" r="3.3"/>
<circle cx="591.33" cy="674.12" r="3.3"/>
<circle cx="619.38" cy="677.27" r="3.3"/>
<circle cx="603.39" cy="678.31" r="3.3"/>
<circle cx="600.24" cy="679.62" r="3.3"/>
<circle cx="596.31" cy="680.67" r="3.3"/>
<circle cx="594.74" cy="681.72" r="3.3"/>
<circle cx="614.13" cy="681.2" r="3.3"/>
<circle cx="624.62" cy="680.93" r="3.3"/>
<circle cx="657.13" cy="681.2" r="3.3"/>
<circle cx="619.12" cy="685.65" r="3.3"/>
<circle cx="636.42" cy="686.44" r="3.3"/>
<circle cx="655.55" cy="687.49" r="3.3"/>
<circle cx="592.9" cy="689.32" r="3.3"/>
<circle cx="640.61" cy="690.11" r="3.3"/>
<circle cx="608.63" cy="692.73" r="3.3"/>
<circle cx="607.06" cy="695.35" r="3.3"/>
<circle cx="605.22" cy="697.19" r="3.3"/>
<circle cx="595.78" cy="699.81" r="3.3"/>
<circle cx="626.98" cy="702.17" r="3.3"/>
<circle cx="603.39" cy="704" r="3.3"/>
<circle cx="620.69" cy="705.57" r="3.3"/>
<circle cx="610.99" cy="734.15" r="3.3"/>
<circle cx="598.67" cy="747.51" r="3.3"/>
<circle cx="613.35" cy="745.94" r="3.3"/>
<circle cx="628.03" cy="750.66" r="3.3"/>
<circle cx="622.26" cy="753.54" r="3.3"/>
<circle cx="634.58" cy="756.69" r="3.3"/>
<circle cx="624.62" cy="765.08" r="3.3"/>
<circle cx="655.03" cy="771.11" r="3.3"/>
<circle cx="594.21" cy="782.64" r="3.3"/>
<circle cx="604.17" cy="804.92" r="3.3"/>
<circle cx="594.47" cy="807.54" r="3.3"/>
<circle cx="656.08" cy="807.02" r="3.3"/>
<circle cx="625.67" cy="814.62" r="3.3"/>
<circle cx="628.82" cy="867.83" r="3.3"/>
<circle cx="638.25" cy="875.17" r="3.3"/>
<circle cx="624.88" cy="889.32" r="3.3"/>
<circle cx="593.69" cy="892.99" r="3.3"/>
<circle cx="599.98" cy="939.65" r="3.3"/>
<circle cx="786.11" cy="595.22" r="3.3"/>
<circle cx="827" cy="645.55" r="3.3"/>
<circle cx="773" cy="667.83" r="3.3"/>
<circle cx="811.27" cy="672.55" r="3.3"/>
<circle cx="811.54" cy="675.43" r="3.3"/>
<circle cx="814.94" cy="680.67" r="3.3"/>
<circle cx="785.84" cy="683.82" r="3.3"/>
<circle cx="794.23" cy="684.34" r="3.3"/>
<circle cx="787.94" cy="691.16" r="3.3"/>
<circle cx="797.64" cy="694.04" r="3.3"/>
<circle cx="821.76" cy="693.25" r="3.3"/>
<circle cx="816.25" cy="695.61" r="3.3"/>
<circle cx="771.16" cy="698.24" r="3.3"/>
<circle cx="778.24" cy="700.07" r="3.3"/>
<circle cx="818.09" cy="702.43" r="3.3"/>
<circle cx="804.46" cy="704.53" r="3.3"/>
<circle cx="774.57" cy="710.03" r="3.3"/>
<circle cx="824.38" cy="710.82" r="3.3"/>
<circle cx="830.67" cy="711.34" r="3.3"/>
<circle cx="780.08" cy="726.02" r="3.3"/>
<circle cx="824.64" cy="726.54" r="3.3"/>
<circle cx="785.32" cy="733.88" r="3.3"/>
<circle cx="786.37" cy="767.17" r="3.3"/>
<circle cx="778.24" cy="768.22" r="3.3"/>
<circle cx="779.03" cy="768.75" r="3.3"/>
<circle cx="774.83" cy="775.82" r="3.3"/>
<circle cx="765.13" cy="795.48" r="3.3"/>
<circle cx="818.61" cy="807.54" r="3.3"/>
<circle cx="820.45" cy="815.93" r="3.3"/>
<circle cx="817.56" cy="842.4" r="3.3"/>
<circle cx="784.27" cy="858.13" r="3.3"/>
<circle cx="782.96" cy="869.14" r="3.3"/>
<circle cx="825.95" cy="885.13" r="3.3"/>
<circle cx="808.65" cy="903.48" r="3.3"/>
<circle cx="827.53" cy="911.6" r="3.3"/>
</g>
<path d="M622 572.94V562.45H798.5V572.94" stroke="#787878" stroke-width="1.7" fill="none"/>
<text x="710.25" y="569.45" font-size="36" fill="#7a7a7a" text-anchor="middle">*</text>
<rect x="517.1" y="532.3" width="386.3" height="425.6" fill="none" stroke="#333333" stroke-width="1.25"/>
<rect x="517.1" y="489.3" width="386.3" height="43" fill="#D9D9D9" stroke="#333333" stroke-width="1.5"/>
<text x="710.25" y="520" font-size="25.2" fill="#1A1A1A" text-anchor="middle">Depression</text>
<text x="504.6" y="657.21" font-size="25.2" fill="#4D4D4D" text-anchor="end">0</text>
<text x="504.6" y="795.61" font-size="25.2" fill="#4D4D4D" text-anchor="end">-1</text>
<text x="504.6" y="934.01" font-size="25.2" fill="#4D4D4D" text-anchor="end">-2</text>
<path d="M510.1 647.91H516.7M510.1 786.31H516.7M510.1 924.71H516.7" stroke="#262626" stroke-width="2" fill="none"/>
</g>
<g>
<rect x="986.75" y="532.3" width="386.3" height="425.6" fill="#fff"/>
<path d="M986.75 606.84H1373.05M986.75 713.44H1373.05M986.75 820.04H1373.05M986.75 926.63H1373.05" stroke="#EBEBEB" stroke-width="1" fill="none"/>
<path d="M986.75 553.54H1373.05M986.75 660.23H1373.05M986.75 766.91H1373.05M986.75 873.33H1373.05M1091.65 532.3V957.9M1268.15 532.3V957.9" stroke="#E7E7E7" stroke-width="1.9" fill="none"/>
<path d="M1091.65 562.98V687.23M1091.65 804.13V930.74" stroke="#000" stroke-width="1.7" fill="none"/>
<rect x="1029.88" y="687.23" width="123.55" height="116.91" fill="#4CAC80" stroke="#000" stroke-width="1.6"/>
<path d="M1029.88 736.24H1153.43" stroke="#000" stroke-width="2.8" fill="none"/>
<path d="M1268.15 862.06V886.18M1268.15 924.97V939.39" stroke="#000" stroke-width="1.7" fill="none"/>
<rect x="1206.38" y="886.18" width="123.55" height="38.79" fill="#DA651F" stroke="#000" stroke-width="1.6"/>
<path d="M1206.38 910.29H1329.93" stroke="#000" stroke-width="2.8" fill="none"/>
<g fill="none" stroke="#000" stroke-opacity="0.55" stroke-width="2.3">
<circle cx="1064.47" cy="562.72" r="3.3"/>
<circle cx="1086.23" cy="588.67" r="3.3"/>
<circle cx="1127.13" cy="687.49" r="3.3"/>
<circle cx="1099.6" cy="700.33" r="3.3"/>
<circle cx="1109.83" cy="736.77" r="3.3"/>
<circle cx="1090.95" cy="758.26" r="3.3"/>
<circle cx="1107.2" cy="804.13" r="3.3"/>
<circle cx="1109.04" cy="909.77" r="3.3"/>
<circle cx="1118.21" cy="931" r="3.3"/>
<circle cx="1233.56" cy="861.54" r="3.3"/>
<circle cx="1233.3" cy="910.56" r="3.3"/>
<circle cx="1259.78" cy="939.65" r="3.3"/>
</g>
<rect x="986.75" y="532.3" width="386.3" height="425.6" fill="none" stroke="#333333" stroke-width="1.25"/>
<rect x="986.75" y="489.3" width="386.3" height="43" fill="#D9D9D9" stroke="#333333" stroke-width="1.5"/>
<text x="1179.9" y="520" font-size="25.2" fill="#1A1A1A" text-anchor="middle">Stress</text>
<text x="974.25" y="562.84" font-size="25.2" fill="#4D4D4D" text-anchor="end">0.25</text>
<text x="974.25" y="669.53" font-size="25.2" fill="#4D4D4D" text-anchor="end">0.00</text>
<text x="974.25" y="776.21" font-size="25.2" fill="#4D4D4D" text-anchor="end">-0.25</text>
<text x="974.25" y="882.63" font-size="25.2" fill="#4D4D4D" text-anchor="end">-0.50</text>
<path d="M979.75 553.54H986.35M979.75 660.23H986.35M979.75 766.91H986.35M979.75 873.33H986.35" stroke="#262626" stroke-width="2" fill="none"/>
</g>
<g>
<rect x="1442.45" y="532.3" width="386.3" height="425.6" fill="#fff"/>
<path d="M1442.45 552.23H1828.75M1442.45 666.52H1828.75M1442.45 780.8H1828.75M1442.45 895.09H1828.75" stroke="#EBEBEB" stroke-width="1" fill="none"/>
<path d="M1442.45 609.38H1828.75M1442.45 723.92H1828.75M1442.45 837.95H1828.75M1442.45 952.23H1828.75M1547.35 532.3V957.9M1723.85 532.3V957.9" stroke="#E7E7E7" stroke-width="1.9" fill="none"/>
<path d="M1547.35 562.98V633.49M1547.35 703.22V805.71" stroke="#000" stroke-width="1.7" fill="none"/>
<rect x="1485.58" y="633.49" width="123.55" height="69.72" fill="#4CAC80" stroke="#000" stroke-width="1.6"/>
<path d="M1485.58 661.8H1609.13" stroke="#000" stroke-width="2.8" fill="none"/>
<path d="M1723.85 599.15V644.24M1723.85 831.92V871.76" stroke="#000" stroke-width="1.7" fill="none"/>
<rect x="1662.08" y="644.24" width="123.55" height="187.68" fill="#DA651F" stroke="#000" stroke-width="1.6"/>
<path d="M1662.08 697.19H1785.63" stroke="#000" stroke-width="2.8" fill="none"/>
<g fill="none" stroke="#000" stroke-opacity="0.55" stroke-width="2.3">
<circle cx="1561.25" cy="562.72" r="3.3"/>
<circle cx="1541.58" cy="611.47" r="3.3"/>
<circle cx="1575.14" cy="609.64" r="3.3"/>
<circle cx="1579.86" cy="609.64" r="3.3"/>
<circle cx="1538.18" cy="617.5" r="3.3"/>
<circle cx="1568.32" cy="619.07" r="3.3"/>
<circle cx="1579.86" cy="627.2" r="3.3"/>
<circle cx="1515.37" cy="629.3" r="3.3"/>
<circle cx="1582.22" cy="631.39" r="3.3"/>
<circle cx="1523.23" cy="633.23" r="3.3"/>
<circle cx="1578.81" cy="637.16" r="3.3"/>
<circle cx="1560.2" cy="643.19" r="3.3"/>
<circle cx="1521.92" cy="645.81" r="3.3"/>
<circle cx="1544.47" cy="646.07" r="3.3"/>
<circle cx="1546.04" cy="645.81" r="3.3"/>
<circle cx="1535.29" cy="654.72" r="3.3"/>
<circle cx="1558.36" cy="653.41" r="3.3"/>
<circle cx="1574.62" cy="652.63" r="3.3"/>
<circle cx="1515.37" cy="662.32" r="3.3"/>
<circle cx="1565.96" cy="664.42" r="3.3"/>
<circle cx="1549.45" cy="669.93" r="3.3"/>
<circle cx="1541.32" cy="681.46" r="3.3"/>
<circle cx="1527.69" cy="692.73" r="3.3"/>
<circle cx="1575.14" cy="689.06" r="3.3"/>
<circle cx="1567.8" cy="691.94" r="3.3"/>
<circle cx="1514.06" cy="696.14" r="3.3"/>
<circle cx="1551.28" cy="696.92" r="3.3"/>
<circle cx="1528.74" cy="703.48" r="3.3"/>
<circle cx="1534.77" cy="728.9" r="3.3"/>
<circle cx="1522.45" cy="732.84" r="3.3"/>
<circle cx="1528.74" cy="740.44" r="3.3"/>
<circle cx="1544.47" cy="739.65" r="3.3"/>
<circle cx="1532.67" cy="761.14" r="3.3"/>
<circle cx="1541.58" cy="805.97" r="3.3"/>
<circle cx="1580.38" cy="828.77" r="3.3"/>
<circle cx="1557.58" cy="878.31" r="3.3"/>
<circle cx="1562.29" cy="939.65" r="3.3"/>
<circle cx="1727.19" cy="599.15" r="3.3"/>
<circle cx="1729.02" cy="624.84" r="3.3"/>
<circle cx="1752.09" cy="629.56" r="3.3"/>
<circle cx="1730.6" cy="687.75" r="3.3"/>
<circle cx="1752.09" cy="689.85" r="3.3"/>
<circle cx="1695.99" cy="704.53" r="3.3"/>
<circle cx="1709.1" cy="814.88" r="3.3"/>
<circle cx="1699.14" cy="837.69" r="3.3"/>
<circle cx="1737.15" cy="864.95" r="3.3"/>
<circle cx="1705.95" cy="872.29" r="3.3"/>
</g>
<rect x="1442.45" y="532.3" width="386.3" height="425.6" fill="none" stroke="#333333" stroke-width="1.25"/>
<rect x="1442.45" y="489.3" width="386.3" height="43" fill="#D9D9D9" stroke="#333333" stroke-width="1.5"/>
<text x="1635.6" y="520" font-size="25.2" fill="#1A1A1A" text-anchor="middle">Negative Affect</text>
<text x="1429.95" y="618.68" font-size="25.2" fill="#4D4D4D" text-anchor="end">0.0</text>
<text x="1429.95" y="733.22" font-size="25.2" fill="#4D4D4D" text-anchor="end">-0.4</text>
<text x="1429.95" y="847.25" font-size="25.2" fill="#4D4D4D" text-anchor="end">-0.8</text>
<text x="1429.95" y="961.53" font-size="25.2" fill="#4D4D4D" text-anchor="end">-1.2</text>
<path d="M1435.45 609.38H1442.05M1435.45 723.92H1442.05M1435.45 837.95H1442.05M1435.45 952.23H1442.05" stroke="#262626" stroke-width="2" fill="none"/>
</g>
<g>
<rect x="82.8" y="1015" width="386.3" height="426.1" fill="#fff"/>
<path d="M82.8 1063.8H469.1M82.8 1210.07H469.1M82.8 1356.33H469.1" stroke="#EBEBEB" stroke-width="1" fill="none"/>
<path d="M82.8 1136.94H469.1M82.8 1283.2H469.1M82.8 1429.47H469.1M187.7 1015V1441.1M364.2 1015V1441.1" stroke="#E7E7E7" stroke-width="1.9" fill="none"/>
<path d="M187.7 1214V1300.5M187.7 1383.59V1422.39" stroke="#000" stroke-width="1.7" fill="none"/>
<rect x="125.92" y="1300.5" width="123.55" height="83.09" fill="#4CAC80" stroke="#000" stroke-width="1.6"/>
<path d="M125.92 1356.6H249.47" stroke="#000" stroke-width="2.8" fill="none"/>
<path d="M364.2 1171.27V1229.99M364.2 1364.2V1399.32" stroke="#000" stroke-width="1.7" fill="none"/>
<rect x="302.43" y="1229.99" width="123.55" height="134.21" fill="#DA651F" stroke="#000" stroke-width="1.6"/>
<path d="M302.43 1295.78H425.97" stroke="#000" stroke-width="2.8" fill="none"/>
<g fill="none" stroke="#000" stroke-opacity="0.55" stroke-width="2.3">
<circle cx="202.74" cy="1045.72" r="3.3"/>
<circle cx="185.44" cy="1098.4" r="3.3"/>
<circle cx="199.86" cy="1214" r="3.3"/>
<circle cx="161.06" cy="1230.25" r="3.3"/>
<circle cx="198.54" cy="1241.26" r="3.3"/>
<circle cx="183.86" cy="1249.13" r="3.3"/>
<circle cx="205.88" cy="1248.86" r="3.3"/>
<circle cx="169.97" cy="1254.37" r="3.3"/>
<circle cx="183.34" cy="1273.24" r="3.3"/>
<circle cx="183.34" cy="1300.5" r="3.3"/>
<circle cx="210.08" cy="1316.49" r="3.3"/>
<circle cx="207.72" cy="1324.09" r="3.3"/>
<circle cx="208.24" cy="1326.71" r="3.3"/>
<circle cx="215.85" cy="1331.17" r="3.3"/>
<circle cx="222.4" cy="1347.42" r="3.3"/>
<circle cx="209.55" cy="1352.93" r="3.3"/>
<circle cx="167.87" cy="1356.86" r="3.3"/>
<circle cx="196.97" cy="1356.86" r="3.3"/>
<circle cx="210.34" cy="1358.17" r="3.3"/>
<circle cx="212.96" cy="1358.17" r="3.3"/>
<circle cx="166.82" cy="1360.79" r="3.3"/>
<circle cx="179.15" cy="1361.31" r="3.3"/>
<circle cx="171.28" cy="1366.56" r="3.3"/>
<circle cx="192.25" cy="1368.65" r="3.3"/>
<circle cx="160.27" cy="1372.59" r="3.3"/>
<circle cx="181.77" cy="1372.06" r="3.3"/>
<circle cx="155.81" cy="1384.12" r="3.3"/>
<circle cx="205.62" cy="1390.67" r="3.3"/>
<circle cx="215.85" cy="1393.56" r="3.3"/>
<circle cx="177.57" cy="1395.91" r="3.3"/>
<circle cx="215.06" cy="1398.8" r="3.3"/>
<circle cx="161.84" cy="1399.32" r="3.3"/>
<circle cx="182.82" cy="1404.04" r="3.3"/>
<circle cx="161.84" cy="1407.19" r="3.3"/>
<circle cx="159.48" cy="1415.57" r="3.3"/>
<circle cx="165.25" cy="1422.65" r="3.3"/>
<circle cx="372.35" cy="1171.27" r="3.3"/>
<circle cx="355.84" cy="1217.93" r="3.3"/>
<circle cx="355.84" cy="1233.92" r="3.3"/>
<circle cx="348.23" cy="1282.41" r="3.3"/>
<circle cx="362.39" cy="1309.68" r="3.3"/>
<circle cx="328.83" cy="1361.05" r="3.3"/>
<circle cx="375.76" cy="1374.42" r="3.3"/>
<circle cx="335.65" cy="1399.85" r="3.3"/>
</g>
<rect x="82.8" y="1015" width="386.3" height="426.1" fill="none" stroke="#333333" stroke-width="1.25"/>
<rect x="82.8" y="972" width="386.3" height="43" fill="#D9D9D9" stroke="#333333" stroke-width="1.5"/>
<text x="275.95" y="1002.7" font-size="25.2" fill="#1A1A1A" text-anchor="middle">Positive Affect</text>
<text x="70.3" y="1146.24" font-size="25.2" fill="#4D4D4D" text-anchor="end">1.0</text>
<text x="70.3" y="1292.5" font-size="25.2" fill="#4D4D4D" text-anchor="end">0.5</text>
<text x="70.3" y="1438.77" font-size="25.2" fill="#4D4D4D" text-anchor="end">0.0</text>
<path d="M75.8 1136.94H82.4M75.8 1283.2H82.4M75.8 1429.47H82.4" stroke="#262626" stroke-width="2" fill="none"/>
<path d="M187.7 1441.5V1447.9M364.2 1441.5V1447.9" stroke="#262626" stroke-width="2" fill="none"/>
<text transform="translate(200.2 1467.6) rotate(-45)" font-size="25.2" fill="#4D4D4D" text-anchor="end">physical activity</text>
<text transform="translate(376.7 1467.6) rotate(-45)" font-size="25.2" fill="#4D4D4D" text-anchor="end">stay static</text>
</g>
<g>
<rect x="517.1" y="1015" width="386.3" height="426.1" fill="#fff"/>
<path d="M517.1 1084.51H903.4M517.1 1175.21H903.4M517.1 1265.9H903.4M517.1 1356.6H903.4" stroke="#EBEBEB" stroke-width="1" fill="none"/>
<path d="M517.1 1039.16H903.4M517.1 1129.86H903.4M517.1 1220.55H903.4M517.1 1311.25H903.4M517.1 1401.94H903.4M622 1015V1441.1M798.5 1015V1441.1" stroke="#E7E7E7" stroke-width="1.9" fill="none"/>
<path d="M622 1088.44V1232.35M622 1347.42V1422.39" stroke="#000" stroke-width="1.7" fill="none"/>
<rect x="560.23" y="1232.35" width="123.55" height="115.07" fill="#4CAC80" stroke="#000" stroke-width="1.6"/>
<path d="M560.23 1309.41H683.77" stroke="#000" stroke-width="2.8" fill="none"/>
<path d="M798.5 1166.29V1233.92M798.5 1334.32V1360" stroke="#000" stroke-width="1.7" fill="none"/>
<rect x="736.73" y="1233.92" width="123.55" height="100.39" fill="#DA651F" stroke="#000" stroke-width="1.6"/>
<path d="M736.73 1301.81H860.27" stroke="#000" stroke-width="2.8" fill="none"/>
<g fill="none" stroke="#000" stroke-opacity="0.55" stroke-width="2.3">
<circle cx="644.02" cy="1087.66" r="3.3"/>
<circle cx="634.58" cy="1104.69" r="3.3"/>
<circle cx="644.54" cy="1103.91" r="3.3"/>
<circle cx="656.87" cy="1130.12" r="3.3"/>
<circle cx="609.42" cy="1136.41" r="3.3"/>
<circle cx="643.5" cy="1137.46" r="3.3"/>
<circle cx="633.01" cy="1187.26" r="3.3"/>
<circle cx="635.11" cy="1189.89" r="3.3"/>
<circle cx="651.62" cy="1203.78" r="3.3"/>
<circle cx="588.71" cy="1210.07" r="3.3"/>
<circle cx="615.97" cy="1215.57" r="3.3"/>
<circle cx="630.39" cy="1219.24" r="3.3"/>
<circle cx="597.36" cy="1225.27" r="3.3"/>
<circle cx="648.74" cy="1223.7" r="3.3"/>
<circle cx="621.48" cy="1232.09" r="3.3"/>
<circle cx="597.36" cy="1233.66" r="3.3"/>
<circle cx="629.08" cy="1241.52" r="3.3"/>
<circle cx="642.97" cy="1244.93" r="3.3"/>
<circle cx="590.54" cy="1268.78" r="3.3"/>
<circle cx="597.62" cy="1268.26" r="3.3"/>
<circle cx="609.94" cy="1267.47" r="3.3"/>
<circle cx="624.36" cy="1272.45" r="3.3"/>
<circle cx="596.31" cy="1283.73" r="3.3"/>
<circle cx="615.97" cy="1283.99" r="3.3"/>
<circle cx="657.13" cy="1283.73" r="3.3"/>
<circle cx="595.78" cy="1292.64" r="3.3"/>
<circle cx="644.81" cy="1291.33" r="3.3"/>
<circle cx="641.92" cy="1305.74" r="3.3"/>
<circle cx="620.69" cy="1307.84" r="3.3"/>
<circle cx="587.13" cy="1311.77" r="3.3"/>
<circle cx="590.28" cy="1312.03" r="3.3"/>
<circle cx="610.2" cy="1310.2" r="3.3"/>
<circle cx="615.97" cy="1311.51" r="3.3"/>
<circle cx="602.6" cy="1315.44" r="3.3"/>
<circle cx="610.73" cy="1321.47" r="3.3"/>
<circle cx="612.82" cy="1326.45" r="3.3"/>
<circle cx="621.74" cy="1325.93" r="3.3"/>
<circle cx="643.23" cy="1327.5" r="3.3"/>
<circle cx="650.05" cy="1325.4" r="3.3"/>
<circle cx="653.2" cy="1327.5" r="3.3"/>
<circle cx="589.75" cy="1333.53" r="3.3"/>
<circle cx="612.82" cy="1341.13" r="3.3"/>
<circle cx="604.96" cy="1347.42" r="3.3"/>
<circle cx="588.18" cy="1351.88" r="3.3"/>
<circle cx="606.53" cy="1362.36" r="3.3"/>
<circle cx="597.1" cy="1364.72" r="3.3"/>
<circle cx="635.89" cy="1364.98" r="3.3"/>
<circle cx="598.41" cy="1376.78" r="3.3"/>
<circle cx="654.24" cy="1376.52" r="3.3"/>
<circle cx="620.69" cy="1377.57" r="3.3"/>
<circle cx="627.24" cy="1378.61" r="3.3"/>
<circle cx="591.59" cy="1382.55" r="3.3"/>
<circle cx="626.72" cy="1393.29" r="3.3"/>
<circle cx="604.7" cy="1395.39" r="3.3"/>
<circle cx="606.53" cy="1395.13" r="3.3"/>
<circle cx="621.48" cy="1410.86" r="3.3"/>
<circle cx="591.85" cy="1422.65" r="3.3"/>
<circle cx="775.36" cy="1045.45" r="3.3"/>
<circle cx="809.18" cy="1069.83" r="3.3"/>
<circle cx="828.84" cy="1069.83" r="3.3"/>
<circle cx="777.72" cy="1166.03" r="3.3"/>
<circle cx="792.92" cy="1205.35" r="3.3"/>
<circle cx="781.91" cy="1214.52" r="3.3"/>
<circle cx="795.81" cy="1218.19" r="3.3"/>
<circle cx="819.4" cy="1239.43" r="3.3"/>
<circle cx="823.07" cy="1245.98" r="3.3"/>
<circle cx="781.65" cy="1256.73" r="3.3"/>
<circle cx="803.93" cy="1274.03" r="3.3"/>
<circle cx="820.19" cy="1281.89" r="3.3"/>
<circle cx="825.95" cy="1290.54" r="3.3"/>
<circle cx="831.72" cy="1296.31" r="3.3"/>
<circle cx="779.81" cy="1307.05" r="3.3"/>
<circle cx="783.22" cy="1310.72" r="3.3"/>
<circle cx="764.87" cy="1319.11" r="3.3"/>
<circle cx="808.39" cy="1323.04" r="3.3"/>
<circle cx="799.74" cy="1328.55" r="3.3"/>
<circle cx="820.71" cy="1333.53" r="3.3"/>
<circle cx="827.79" cy="1332.22" r="3.3"/>
<circle cx="796.59" cy="1338.25" r="3.3"/>
<circle cx="801.84" cy="1341.13" r="3.3"/>
<circle cx="809.44" cy="1346.9" r="3.3"/>
<circle cx="770.64" cy="1353.97" r="3.3"/>
<circle cx="777.98" cy="1352.93" r="3.3"/>
<circle cx="788.73" cy="1360.27" r="3.3"/>
</g>
<rect x="517.1" y="1015" width="386.3" height="426.1" fill="none" stroke="#333333" stroke-width="1.25"/>
<rect x="517.1" y="972" width="386.3" height="43" fill="#D9D9D9" stroke="#333333" stroke-width="1.5"/>
<text x="710.25" y="1002.7" font-size="25.2" fill="#1A1A1A" text-anchor="middle">Restorative Effect</text>
<text x="504.6" y="1048.46" font-size="25.2" fill="#4D4D4D" text-anchor="end">4</text>
<text x="504.6" y="1139.16" font-size="25.2" fill="#4D4D4D" text-anchor="end">3</text>
<text x="504.6" y="1229.85" font-size="25.2" fill="#4D4D4D" text-anchor="end">2</text>
<text x="504.6" y="1320.55" font-size="25.2" fill="#4D4D4D" text-anchor="end">1</text>
<text x="504.6" y="1411.24" font-size="25.2" fill="#4D4D4D" text-anchor="end">0</text>
<path d="M510.1 1039.16H516.7M510.1 1129.86H516.7M510.1 1220.55H516.7M510.1 1311.25H516.7M510.1 1401.94H516.7" stroke="#262626" stroke-width="2" fill="none"/>
<path d="M622 1441.5V1447.9M798.5 1441.5V1447.9" stroke="#262626" stroke-width="2" fill="none"/>
<text transform="translate(634.5 1467.6) rotate(-45)" font-size="25.2" fill="#4D4D4D" text-anchor="end">physical activity</text>
<text transform="translate(811 1467.6) rotate(-45)" font-size="25.2" fill="#4D4D4D" text-anchor="end">stay static</text>
</g>
<g>
<rect x="986.75" y="1015" width="386.3" height="426.1" fill="#fff"/>
<path d="M986.75 1045.24H1373.05M986.75 1146.85H1373.05M986.75 1248.47H1373.05M986.75 1350.09H1373.05" stroke="#EBEBEB" stroke-width="1" fill="none"/>
<path d="M986.75 1096.04H1373.05M986.75 1197.75H1373.05M986.75 1299.19H1373.05M986.75 1400.9H1373.05M1091.65 1015V1441.1M1268.15 1015V1441.1" stroke="#E7E7E7" stroke-width="1.9" fill="none"/>
<path d="M1091.65 1312.3V1357.38M1091.65 1391.46V1422.39" stroke="#000" stroke-width="1.7" fill="none"/>
<rect x="1029.88" y="1357.38" width="123.55" height="34.08" fill="#4CAC80" stroke="#000" stroke-width="1.6"/>
<path d="M1029.88 1381.5H1153.43" stroke="#000" stroke-width="2.8" fill="none"/>
<path d="M1268.15 1169.7V1272.19M1268.15 1373.63V1401.42" stroke="#000" stroke-width="1.7" fill="none"/>
<rect x="1206.38" y="1272.19" width="123.55" height="101.44" fill="#DA651F" stroke="#000" stroke-width="1.6"/>
<path d="M1206.38 1357.64H1329.93" stroke="#000" stroke-width="2.8" fill="none"/>
<g fill="none" stroke="#000" stroke-opacity="0.55" stroke-width="2.3">
<circle cx="1068.67" cy="1048.6" r="3.3"/>
<circle cx="1067.88" cy="1213.74" r="3.3"/>
<circle cx="1061.85" cy="1233.66" r="3.3"/>
<circle cx="1078.37" cy="1243.62" r="3.3"/>
<circle cx="1072.34" cy="1254.37" r="3.3"/>
<circle cx="1108.25" cy="1274.29" r="3.3"/>
<circle cx="1086.49" cy="1295.26" r="3.3"/>
<circle cx="1074.96" cy="1301.29" r="3.3"/>
<circle cx="1116.38" cy="1312.03" r="3.3"/>
<circle cx="1123.98" cy="1316.23" r="3.3"/>
<circle cx="1085.97" cy="1318.85" r="3.3"/>
<circle cx="1063.69" cy="1333.27" r="3.3"/>
<circle cx="1060.02" cy="1340.61" r="3.3"/>
<circle cx="1068.41" cy="1351.88" r="3.3"/>
<circle cx="1082.04" cy="1354.5" r="3.3"/>
<circle cx="1098.29" cy="1357.64" r="3.3"/>
<circle cx="1116.64" cy="1356.86" r="3.3"/>
<circle cx="1110.61" cy="1360" r="3.3"/>
<circle cx="1067.1" cy="1362.62" r="3.3"/>
<circle cx="1068.41" cy="1362.89" r="3.3"/>
<circle cx="1106.68" cy="1363.67" r="3.3"/>
<circle cx="1116.12" cy="1364.46" r="3.3"/>
<circle cx="1116.9" cy="1365.25" r="3.3"/>
<circle cx="1092.52" cy="1366.56" r="3.3"/>
<circle cx="1095.67" cy="1373.11" r="3.3"/>
<circle cx="1101.7" cy="1373.11" r="3.3"/>
<circle cx="1069.72" cy="1374.94" r="3.3"/>
<circle cx="1058.18" cy="1377.83" r="3.3"/>
<circle cx="1076.27" cy="1377.83" r="3.3"/>
<circle cx="1082.56" cy="1380.97" r="3.3"/>
<circle cx="1059.75" cy="1382.81" r="3.3"/>
<circle cx="1090.95" cy="1382.02" r="3.3"/>
<circle cx="1108.52" cy="1382.81" r="3.3"/>
<circle cx="1093.31" cy="1384.64" r="3.3"/>
<circle cx="1089.12" cy="1386.48" r="3.3"/>
<circle cx="1077.06" cy="1388.84" r="3.3"/>
<circle cx="1098.03" cy="1387.53" r="3.3"/>
<circle cx="1106.94" cy="1387.79" r="3.3"/>
<circle cx="1071.29" cy="1389.89" r="3.3"/>
<circle cx="1102.22" cy="1389.36" r="3.3"/>
<circle cx="1112.97" cy="1391.72" r="3.3"/>
<circle cx="1121.1" cy="1390.67" r="3.3"/>
<circle cx="1074.7" cy="1393.82" r="3.3"/>
<circle cx="1081.51" cy="1393.29" r="3.3"/>
<circle cx="1101.96" cy="1394.34" r="3.3"/>
<circle cx="1063.42" cy="1395.39" r="3.3"/>
<circle cx="1062.64" cy="1398.27" r="3.3"/>
<circle cx="1083.09" cy="1399.58" r="3.3"/>
<circle cx="1093.31" cy="1398.27" r="3.3"/>
<circle cx="1120.31" cy="1400.37" r="3.3"/>
<circle cx="1100.13" cy="1402.73" r="3.3"/>
<circle cx="1088.85" cy="1407.71" r="3.3"/>
<circle cx="1113.76" cy="1406.92" r="3.3"/>
<circle cx="1109.83" cy="1410.07" r="3.3"/>
<circle cx="1077.84" cy="1422.65" r="3.3"/>
<circle cx="1090.43" cy="1421.6" r="3.3"/>
<circle cx="1241.16" cy="1045.45" r="3.3"/>
<circle cx="1278.65" cy="1100.5" r="3.3"/>
<circle cx="1286.52" cy="1169.44" r="3.3"/>
<circle cx="1258.47" cy="1200.11" r="3.3"/>
<circle cx="1265.28" cy="1230.51" r="3.3"/>
<circle cx="1299.36" cy="1230.51" r="3.3"/>
<circle cx="1287.56" cy="1260.66" r="3.3"/>
<circle cx="1249.81" cy="1270.62" r="3.3"/>
<circle cx="1294.12" cy="1271.67" r="3.3"/>
<circle cx="1300.67" cy="1273.76" r="3.3"/>
<circle cx="1259.51" cy="1275.34" r="3.3"/>
<circle cx="1240.38" cy="1319.37" r="3.3"/>
<circle cx="1234.87" cy="1333.79" r="3.3"/>
<circle cx="1284.68" cy="1336.41" r="3.3"/>
<circle cx="1236.97" cy="1342.97" r="3.3"/>
<circle cx="1263.45" cy="1355.02" r="3.3"/>
<circle cx="1271.57" cy="1357.12" r="3.3"/>
<circle cx="1238.54" cy="1358.17" r="3.3"/>
<circle cx="1235.66" cy="1362.1" r="3.3"/>
<circle cx="1285.47" cy="1361.84" r="3.3"/>
<circle cx="1290.45" cy="1362.62" r="3.3"/>
<circle cx="1294.12" cy="1363.41" r="3.3"/>
<circle cx="1297.53" cy="1362.1" r="3.3"/>
<circle cx="1277.87" cy="1372.06" r="3.3"/>
<circle cx="1278.39" cy="1373.37" r="3.3"/>
<circle cx="1271.05" cy="1374.42" r="3.3"/>
<circle cx="1295.43" cy="1373.9" r="3.3"/>
<circle cx="1293.86" cy="1382.55" r="3.3"/>
<circle cx="1256.89" cy="1384.64" r="3.3"/>
<circle cx="1274.19" cy="1385.95" r="3.3"/>
<circle cx="1284.94" cy="1387.26" r="3.3"/>
<circle cx="1289.66" cy="1393.29" r="3.3"/>
<circle cx="1292.02" cy="1398.01" r="3.3"/>
<circle cx="1263.71" cy="1402.21" r="3.3"/>
</g>
<path d="M1091.65 1166.56V1155.02H1268.15V1166.56" stroke="#787878" stroke-width="1.7" fill="none"/>
<text x="1179.9" y="1162.02" font-size="36" fill="#7a7a7a" text-anchor="middle">**</text>
<rect x="986.75" y="1015" width="386.3" height="426.1" fill="none" stroke="#333333" stroke-width="1.25"/>
<rect x="986.75" y="972" width="386.3" height="43" fill="#D9D9D9" stroke="#333333" stroke-width="1.5"/>
<text x="1179.9" y="1002.7" font-size="25.2" fill="#1A1A1A" text-anchor="middle">Vigor</text>
<text x="974.25" y="1105.34" font-size="25.2" fill="#4D4D4D" text-anchor="end">6</text>
<text x="974.25" y="1207.05" font-size="25.2" fill="#4D4D4D" text-anchor="end">4</text>
<text x="974.25" y="1308.49" font-size="25.2" fill="#4D4D4D" text-anchor="end">2</text>
<text x="974.25" y="1410.2" font-size="25.2" fill="#4D4D4D" text-anchor="end">0</text>
<path d="M979.75 1096.04H986.35M979.75 1197.75H986.35M979.75 1299.19H986.35M979.75 1400.9H986.35" stroke="#262626" stroke-width="2" fill="none"/>
<path d="M1091.65 1441.5V1447.9M1268.15 1441.5V1447.9" stroke="#262626" stroke-width="2" fill="none"/>
<text transform="translate(1104.15 1467.6) rotate(-45)" font-size="25.2" fill="#4D4D4D" text-anchor="end">physical activity</text>
<text transform="translate(1280.65 1467.6) rotate(-45)" font-size="25.2" fill="#4D4D4D" text-anchor="end">stay static</text>
</g>
<g>
<rect x="1442.45" y="1015" width="386.3" height="426.1" fill="#fff"/>
<path d="M1442.45 1100.14H1828.75M1442.45 1191.69H1828.75M1442.45 1283.23H1828.75M1442.45 1374.78H1828.75" stroke="#EBEBEB" stroke-width="1" fill="none"/>
<path d="M1442.45 1054.37H1828.75M1442.45 1145.85H1828.75M1442.45 1237.33H1828.75M1442.45 1329.07H1828.75M1442.45 1420.55H1828.75M1547.35 1015V1441.1M1723.85 1015V1441.1" stroke="#E7E7E7" stroke-width="1.9" fill="none"/>
<path d="M1547.35 1059.61V1188.05M1547.35 1384.38V1422.13" stroke="#000" stroke-width="1.7" fill="none"/>
<rect x="1485.58" y="1188.05" width="123.55" height="196.33" fill="#4CAC80" stroke="#000" stroke-width="1.6"/>
<path d="M1485.58 1350.57H1609.13" stroke="#000" stroke-width="2.8" fill="none"/>
<path d="M1723.85 1045.72V1204.56M1723.85 1350.57V1401.42" stroke="#000" stroke-width="1.7" fill="none"/>
<rect x="1662.08" y="1204.56" width="123.55" height="146" fill="#DA651F" stroke="#000" stroke-width="1.6"/>
<path d="M1662.08 1322.26H1785.63" stroke="#000" stroke-width="2.8" fill="none"/>
<g fill="none" stroke="#000" stroke-opacity="0.55" stroke-width="2.3">
<circle cx="1515.63" cy="1059.09" r="3.3"/>
<circle cx="1550.76" cy="1068.26" r="3.3"/>
<circle cx="1558.1" cy="1085.04" r="3.3"/>
<circle cx="1572.52" cy="1107.84" r="3.3"/>
<circle cx="1568.32" cy="1114.13" r="3.3"/>
<circle cx="1523.23" cy="1134.31" r="3.3"/>
<circle cx="1544.99" cy="1152.93" r="3.3"/>
<circle cx="1553.64" cy="1155.55" r="3.3"/>
<circle cx="1556.26" cy="1158.43" r="3.3"/>
<circle cx="1565.96" cy="1157.12" r="3.3"/>
<circle cx="1577.5" cy="1180.97" r="3.3"/>
<circle cx="1579.07" cy="1180.97" r="3.3"/>
<circle cx="1513.8" cy="1209.81" r="3.3"/>
<circle cx="1539.23" cy="1271.41" r="3.3"/>
<circle cx="1517.73" cy="1282.41" r="3.3"/>
<circle cx="1513.27" cy="1329.34" r="3.3"/>
<circle cx="1524.02" cy="1333" r="3.3"/>
<circle cx="1548.66" cy="1330.65" r="3.3"/>
<circle cx="1573.3" cy="1329.34" r="3.3"/>
<circle cx="1549.45" cy="1338.51" r="3.3"/>
<circle cx="1559.94" cy="1336.41" r="3.3"/>
<circle cx="1566.23" cy="1342.18" r="3.3"/>
<circle cx="1530.84" cy="1347.68" r="3.3"/>
<circle cx="1542.11" cy="1354.24" r="3.3"/>
<circle cx="1554.17" cy="1356.86" r="3.3"/>
<circle cx="1547.88" cy="1364.72" r="3.3"/>
<circle cx="1552.07" cy="1363.94" r="3.3"/>
<circle cx="1580.12" cy="1362.36" r="3.3"/>
<circle cx="1517.73" cy="1367.87" r="3.3"/>
<circle cx="1522.45" cy="1370.23" r="3.3"/>
<circle cx="1573.3" cy="1369.96" r="3.3"/>
<circle cx="1515.63" cy="1374.94" r="3.3"/>
<circle cx="1551.02" cy="1374.42" r="3.3"/>
<circle cx="1534.51" cy="1382.02" r="3.3"/>
<circle cx="1559.41" cy="1385.43" r="3.3"/>
<circle cx="1552.86" cy="1387.79" r="3.3"/>
<circle cx="1575.14" cy="1391.72" r="3.3"/>
<circle cx="1556.53" cy="1393.03" r="3.3"/>
<circle cx="1565.18" cy="1396.44" r="3.3"/>
<circle cx="1579.07" cy="1396.44" r="3.3"/>
<circle cx="1560.98" cy="1398.54" r="3.3"/>
<circle cx="1512.75" cy="1404.56" r="3.3"/>
<circle cx="1523.23" cy="1405.09" r="3.3"/>
<circle cx="1520.35" cy="1407.45" r="3.3"/>
<circle cx="1559.94" cy="1409.81" r="3.3"/>
<circle cx="1577.5" cy="1422.65" r="3.3"/>
<circle cx="1718.54" cy="1045.45" r="3.3"/>
<circle cx="1751.31" cy="1090.02" r="3.3"/>
<circle cx="1691.54" cy="1131.69" r="3.3"/>
<circle cx="1707.53" cy="1175.47" r="3.3"/>
<circle cx="1696.78" cy="1233.14" r="3.3"/>
<circle cx="1697.3" cy="1260.66" r="3.3"/>
<circle cx="1752.35" cy="1310.46" r="3.3"/>
<circle cx="1746.06" cy="1322.78" r="3.3"/>
<circle cx="1727.19" cy="1326.45" r="3.3"/>
<circle cx="1746.59" cy="1337.99" r="3.3"/>
<circle cx="1735.84" cy="1350.57" r="3.3"/>
<circle cx="1742.65" cy="1351.09" r="3.3"/>
<circle cx="1704.38" cy="1354.5" r="3.3"/>
<circle cx="1741.87" cy="1363.94" r="3.3"/>
<circle cx="1709.62" cy="1401.94" r="3.3"/>
</g>
<rect x="1442.45" y="1015" width="386.3" height="426.1" fill="none" stroke="#333333" stroke-width="1.25"/>
<rect x="1442.45" y="972" width="386.3" height="43" fill="#D9D9D9" stroke="#333333" stroke-width="1.5"/>
<text x="1635.6" y="1002.7" font-size="25.2" fill="#1A1A1A" text-anchor="middle">Vitality</text>
<text x="1429.95" y="1063.67" font-size="25.2" fill="#4D4D4D" text-anchor="end">4</text>
<text x="1429.95" y="1155.15" font-size="25.2" fill="#4D4D4D" text-anchor="end">3</text>
<text x="1429.95" y="1246.63" font-size="25.2" fill="#4D4D4D" text-anchor="end">2</text>
<text x="1429.95" y="1338.37" font-size="25.2" fill="#4D4D4D" text-anchor="end">1</text>
<text x="1429.95" y="1429.85" font-size="25.2" fill="#4D4D4D" text-anchor="end">0</text>
<path d="M1435.45 1054.37H1442.05M1435.45 1145.85H1442.05M1435.45 1237.33H1442.05M1435.45 1329.07H1442.05M1435.45 1420.55H1442.05" stroke="#262626" stroke-width="2" fill="none"/>
<path d="M1547.35 1441.5V1447.9M1723.85 1441.5V1447.9" stroke="#262626" stroke-width="2" fill="none"/>
<text transform="translate(1559.85 1467.6) rotate(-45)" font-size="25.2" fill="#4D4D4D" text-anchor="end">physical activity</text>
<text transform="translate(1736.35 1467.6) rotate(-45)" font-size="25.2" fill="#4D4D4D" text-anchor="end">stay static</text>
</g>
<text transform="translate(23.6 745.8) rotate(-90)" font-size="25.3" fill="#000" text-anchor="middle">Mean effect sizes</text>
<text x="956.2" y="1618" font-size="25.3" fill="#000" text-anchor="middle">Exposure</text>
</svg>
</body>
</html>
